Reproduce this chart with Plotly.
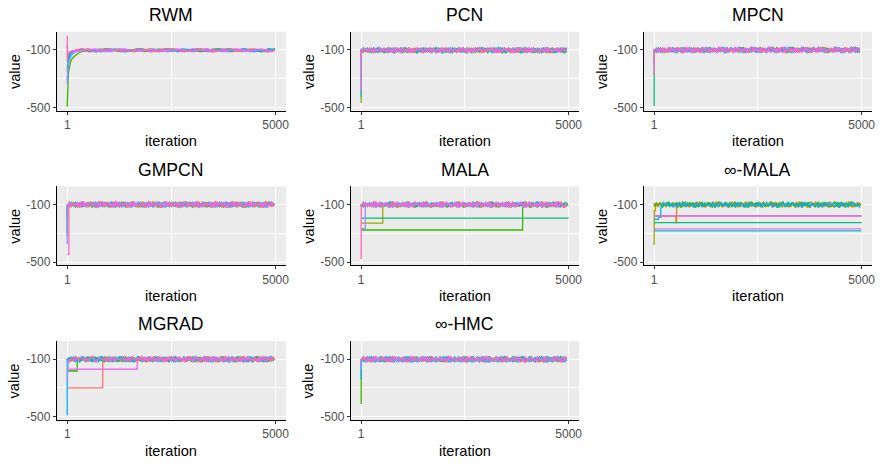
import plotly.graph_objects as go

W, H = 883, 469
ITER_MAX = 5000
THIN = 50               # one noise digit per 50 iterations
LEVEL0, STEP = -128, 5  # digit d -> value LEVEL0 + STEP * d

panel_names = ["RWM", "PCN", "MPCN", "GMPCN", "MALA", "∞-MALA", "MGRAD", "∞-HMC"]
chain_colours = ["#F8766D", "#D89000", "#A3A500", "#39B600", "#00BF7D",
                 "#00BFC4", "#00B0F6", "#9590FF", "#E76BF3", "#FF62BC"]
x_ticks = [1, 5000]
y_ticks = [-500, -100]

# burn-in of every chain as (iteration, value) points
rwm_start = [
    [(1, -260), (8, -220), (20, -180), (45, -150), (90, -128), (150, -114), (230, -106)],
    [(1, -180), (10, -160), (30, -140), (60, -125), (110, -112), (180, -105)],
    [(1, -240), (10, -200), (30, -168), (60, -142), (100, -124), (160, -111), (240, -104)],
    [(1, -495), (5, -430), (12, -360), (22, -300), (35, -250), (55, -210), (80, -185),
     (110, -165), (150, -150), (200, -138), (260, -125), (330, -115), (420, -108), (520, -104)],
    [(1, -70), (5, -130), (20, -150), (50, -132), (100, -116), (200, -105)],
    [(1, -220), (10, -190), (30, -160), (60, -136), (110, -118), (180, -108)],
    [(1, -310), (10, -262), (25, -212), (50, -172), (90, -142), (150, -122), (220, -110), (300, -104)],
    [(1, -340), (8, -282), (20, -222), (40, -182), (70, -152), (110, -130), (170, -115), (250, -106)],
    [(1, -150), (10, -140), (30, -128), (60, -118), (110, -108)],
    [(1, 0), (4, -170), (10, -142), (30, -126), (60, -115), (120, -107)],
]
pcn_start = [[(1, -104)], [(1, -98)], [(1, -470)], [(1, -102)], [(1, -101)],
             [(1, -430)], [(1, -99)], [(1, -103)], [(1, -385)], [(1, -150)]]
mpcn_start = [[(1, -195)], [(1, -102)], [(1, -99)], [(1, -104)], [(1, -490)],
              [(1, -101)], [(1, -98)], [(1, -103)], [(1, -100)], [(1, -270)]]
gmpcn_start = [[(1, -102)], [(1, -295)], [(1, -190)], [(1, -184)], [(1, -101)],
               [(1, -318)], [(1, -99)], [(1, -377)], [(1, -103)], [(1, -447), (40, -447)]]
mala_start = [[(1, -100)], [(1, -101)], [(1, -230), (520, -230)], [(1, -277), (3890, -277)],
              [(1, -195), (5000, -195)], [(1, -98)], [(1, -99)], [(1, -268), (100, -268)],
              [(1, -102)], [(1, -480)]]
imala_start = [[(1, -90)], [(1, -180), (525, -180), (526, -225), (540, -225)],
               [(1, -381), (4, -381), (5, -142), (30, -142)], [(1, -110)],
               [(1, -226), (5000, -226)], [(1, -283), (5000, -283)],
               [(1, -203), (100, -203), (101, -189), (160, -189)],
               [(1, -177), (5000, -177)], [(1, -269), (5000, -269)], [(1, -181), (5000, -181)]]
mgrad_start = [[(1, -300), (853, -300)], [(1, -101)], [(1, -99)], [(1, -182), (240, -182)],
               [(1, -102)], [(1, -100)], [(1, -490)], [(1, -252), (8, -252), (9, -180), (20, -180)],
               [(1, -170), (1680, -170)], [(1, -103)]]
ihmc_start = [[(1, -101)], [(1, -99)], [(1, -102)], [(1, -412)], [(1, -100)],
              [(1, -103)], [(1, -240)], [(1, -170)], [(1, -98)], [(1, -101)]]

# stationary part of every chain, one digit per THIN iterations (None = stuck)
rwm_noise = [
    "5566544556 6776655445 5443455667 7665544334 4556677665 5444556676 6554433445 5667766554 4455665544 3345566776",
    "4455667665 5443344556 6776654433 4556677766 5544455665 5433445566 7765544556 6654433445 5666777654 4433455665",
    "6655443345 5667765544 4556676655 4433455667 7766554445 5665544334 4556677665 5544345566 6776554433 4456677655",
    "3344556676 6554433445 5667766543 3445566776 6554445566 5543344556 6777665544 4556654433 3455667766 5544455667",
    "5667766554 4433455667 6655444556 6776554433 3455667765 5544556677 6654433445 5667765544 4556677654 4334556676",
    "4556655443 3456677665 5443345566 7766544556 6654433455 6677665544 4455667766 5443344556 6776655443 3455667765",
    "6776554433 4556677655 4433455667 7665544556 6775544334 5566776554 4335566776 6544556677 6553344556 6776544334",
    "5544556677 6654433455 6677665443 3455667765 5443455667 7654433456 6776655443 3455676655 4433556677 6554433456",
    "4433556677 7655443345 5667766554 4455667765 5433445566 7766544334 5566776655 4433455667 7665544556 6776544335",
    "5566776544 3345566776 6554433455 6677654433 4556677665 5443345567 7665544334 5567766554 4335566776 6544335566",
]
pcn_noise = [
    "5364758264 3756482637 5847362548 2637485736 4857263748 5362748573 6485736254 7364825736 4758263745 8362547385",
    "4735826374 6253748562 7384625738 4657382645 7362584736 2548637452 8364752638 4726385746 3528476354 7263845726",
    "6283745637 4859263748 3625748362 5748362574 8362547839 2647385264 7385264738 5627384756 2638475362 8475263847",
    "3748562738 4625738465 2748365274 8365247386 5247386524 7386524738 6253847562 3847562384 7652384765 2384756238",
    "5847263593 6274851637 4928365174 6382759461 3857264938 5172648395 7263849516 2847359164 8352746193 6485273619",
    "4657384526 7348562739 4658273645 3748256374 6583742658 3746285637 4852637485 2637485627 3845627384 5627384562",
    "7364528473 6452837465 2836475263 8475362847 5362847563 2847563728 4657382946 5738264759 3648572638 4752638475",
    "3857462839 5746382947 5638274658 3947562837 4659382746 5837264958 3746285739 4658273946 5827364859 3746582937",
    "6472835647 3825647382 5647382956 4738265749 3826574839 2657483926 5748362657 4736285748 3926574638 2657483746",
    "5463728456 3748526374 8562734856 2734865273 4856372485 6273845627 3458627348 5672348562 7384562734 8526734856",
]
mpcn_noise = [
    "4738562947 3856274638 5927463857 2647385926 4738562947 6385274639 5827463952 7463852746 3958274638 5274639582",
    "6374825637 4852637428 5673482956 3784295637 4289563748 2965374829 5367482956 3748925637 4892563748 2596374829",
    "5284736459 2873465928 3764592837 4695283746 5982374659 2837645928 3746529837 4659238746 5928734659 2387465928",
    "4657382746 5839274658 3746592847 3658274936 5748263957 4638275946 3857264938 4756283947 5638274956 4738265947",
    "3758264937 5648273956 4837265948 3756284937 6548273965 4837256948 3765284937 5648273956 4873265948 3756248937",
    "6485273648 5273946582 7364859273 6458273946 5827364952 8736495827 3649582736 4958273649 5827364958 2736495827",
    "5372846573 8264753382 6475738264 7539826475 3982647593 8246759382 6475398264 7593286475 9382674593 8264795382",
    "4826375948 2673594826 3759842637 5948236759 4862375948 2637549826 3795482637 5948263579 4826357948 2637594286",
    "6573846295 7348629573 8462597384 6295783462 9537846295 7384692573 8426957384 6259738462 9573486295 7384625973",
    "5647382956 4783295647 3829546738 2965473829 5647328956 4738259647 3892564738 2956437829 5674382956 4738295467",
]
gmpcn_noise = [
    "5738462957 3486259738 4692573846 2975384629 5783462957 3846925738 4629753846 2957348629 5738642957 3864295738",
    "4629385746 2983574629 3857426938 5746239857 4692385746 2938547629 3875462938 5764293857 4629358746 2938574692",
    "6384725963 8427596384 7259368472 5963874259 6348725963 8472956384 7295638472 5963847529 6384752963 8472593684",
    "3957264835 5726438957 2648359726 4893572648 3957246839 5762483957 2648395276 4839527648 3975264839 5726438957",
    "5486372954 8673295486 3729584637 2954836729 5468372954 8637259486 3792548637 2954863279 5486327954 8637294586",
    "4765382946 7583294765 3829467538 2974653829 4765328946 7538249765 3892476538 2947635829 4756382946 7538294675",
    "6374958263 7459826374 5982637495 8263794582 6347958263 7495286374 9582367495 8263749852 6374985263 7495823674",
    "5293847562 9348756293 8475692384 7562983475 6239847562 9384765293 8457629384 7526938475 6293874562 9384752693",
    "3846572938 4675293846 5729348657 2938456729 3864572938 4657239846 5792384657 2938465279 3846527938 4657293486",
    "5647283956 4782395647 2839546728 3965472839 5647238956 4728359647 2893564728 3956427839 5674283956 4728396547",
]
mala_noise = [
    "4857362948 5763294857 3629458736 2984573629 4875362948 5736249857 3692485736 2948537629 4857326948 5736298457",
    "6273849562 7348956273 8495672384 9562783495 6237849562 7384965273 8459627384 9526738495 6273894562 7384952673",
    "3748596237 4895623748 5962347859 6273485962 3784596237 4859632748 5926374859 6237458962 3748569237 4859627348",
    "5736284957 3628495736 2849573",
    None,
    "5384762953 8467295384 7629583476 2935847629 5348762953 8476259384 7692538476 2953874629 5384726953 8476293584",
    "4673859246 7358924673 8592476385 9264738592 4637859246 7385942673 8529467385 9246783592 4673895246 7385926473",
    "6482937564 8239756482 9375684293 7546829375 6428937564 8293765482 9357648293 7564892375 6482973564 8293754682",
    "3957486239 5784623957 4862359748 6293574862 3975486239 5748632957 4826395748 6239547862 3957468239 5748629357",
    "5826473958 2674395826 4739528647 3985264739 5862473958 2647359826 4793582647 3958246739 5826437958 2647398526",
]
imala_noise = [
    "5638274956 3872495638 2749536827 4965382749 5683274956 3827459638 2794563827 4956328749 5638724956 3827496538",
    "4759362847 5963284759 3628457936 2874593628 4795362847 5936248759 3682475936 2847539628 4759326847 5936284759",
    "6384927563 8429756384 9275683492 7536849275 6348927563 8492765384 9257638492 7563894275 6384972563 8492753684",
    "3857264938 5762493857 2649358726 4983572649 3875264938 5726439857 2694385726 4938527649 3857246938 5726498357",
    None,
    None,
    "2849372819 3928471928 2847391829 4928371938 2819473928 3948271839 2938472819 4928371829 3847291938 2948371829",
    None,
    None,
    None,
]
mgrad_noise = [
    "4956382746 9583274695 3827496538 2764953827 4695328746 9538247695 3872469538 2746935827 4695382764 9538274659",
    "6273958462 7359846273 9584672395 8426739584 6237958462 7395864273 9548627395 8462793584 6273985462 7395842673",
    "5839462758 3964275839 4627538946 2785394627 5893462758 3946257839 4672583946 2758349627 5839426758 3946278539",
    "3748295637 4892563748 2956347829 5673482956 3784295637 4829536748 2965374829 5637428956 3748259637 4829567348",
    "4685273946 8572394685 2739486527 3964852739 4658273946 8527349685 2793468527 3946825739 4685237946 8527396485",
    "5394827653 9428765394 8276593482 7635948276 5349827653 9482756394 8267539482 7653984276 5394872653 9482763594",
    "6748352976 7438529767 4835279674 8325976748 3592767483 5297648357 2967748352 9767438529 7674853297 6748325976",
    "4572938645 5792386457 2938654729 3846572938 6475293864 5729368457 2983645729 3864527938 6457239864 5729386475",
    "3865729483 8675294838 6572984386 5792483865 7294383657 2948365572 9438865729 4838675294 8368572948 3865792483",
    "5283946758 2893467582 8394657828 3964758283 9476582839 4657828394 6785283946 7528839467 5823894675 8283964758",
]
ihmc_noise = [
    "4738529646 7358296467 3852946673 8592646738 5269467385 2964637852 9646783529 6476385296 4673825964 6738592646",
    "6359248375 3529483756 5924873563 9284375635 2438756359 4837536592 8357635924 3756392487 5763592483 5635942837",
    "5846372958 8436729585 4637259858 6327958584 3792585846 7259858463 2985584637 9558846372 5884563729 5846327958",
    "3957482636 9547826363 5784263639 7428636395 4862363957 8236639574 2663395748 6336957482 3693574826 6359748263",
    "4628395747 6238957474 2893574746 8359747462 3975474628 9547746283 5774462839 7447628395 4764283957 7426839574",
    "5473862959 4783629595 7368295954 3826959547 8692595473 6259954738 2995547386 9559473862 5945738629 9574386295",
    "6385947262 3895472626 8549726263 5974262638 9427626385 4762263859 7226638594 2662385947 6236859472 2683594726",
    "3749562848 7459628483 4965284837 9526848374 5682483749 6248837495 2884374956 8438749562 4873495628 8347956284",
    "5862739454 8672394545 6237945458 2793454586 7349545862 3954458627 9445586273 4554862739 5485627394 4568273945",
    "4586327964 5836279645 8623796454 6372964545 3297645458 2769454586 7946545863 9654458632 6445586327 4554863279",
]

panels = [(rwm_start, rwm_noise), (pcn_start, pcn_noise), (mpcn_start, mpcn_noise),
          (gmpcn_start, gmpcn_noise), (mala_start, mala_noise), (imala_start, imala_noise),
          (mgrad_start, mgrad_noise), (ihmc_start, ihmc_noise)]


def chain_xy(start, noise):
    xs = [p[0] for p in start]
    ys = [p[1] for p in start]
    if noise:
        it = xs[-1] + 1
        for d in noise.replace(" ", ""):
            if it > ITER_MAX:
                break
            xs.append(it)
            ys.append(LEVEL0 + STEP * int(d))
            it += THIN
    return xs, ys


# panel boxes in pixels
col_px = [(57, 287), (352, 581), (646, 875)]
row_px = [(32, 111.5), (188, 267.5), (344, 423.5)]

FONT = "Liberation Sans, Arial, sans-serif"
fig = go.Figure()
annotations = []

for k, name in enumerate(panel_names):
    r, c = divmod(k, 3)
    sfx = "" if k == 0 else str(k + 1)
    starts, noises = panels[k]
    for j in range(len(chain_colours)):
        xs, ys = chain_xy(starts[j], noises[j])
        fig.add_trace(go.Scatter(
            x=xs, y=ys, mode="lines",
            line=dict(color=chain_colours[j], width=1.3),
            xaxis="x" + sfx, yaxis="y" + sfx,
            showlegend=False, hoverinfo="skip",
        ))

    x0, x1 = col_px[c]
    t, b = row_px[r]
    common = dict(
        showgrid=True, gridcolor="white", gridwidth=1.1,
        showline=True, linecolor="black", linewidth=1.1,
        ticks="outside", ticklen=3, tickcolor="#333333", tickwidth=1.1,
        tickfont=dict(family=FONT, size=12, color="#4D4D4D"),
        zeroline=False, fixedrange=True,
    )
    fig.update_layout({
        "xaxis" + sfx: dict(
            domain=[x0 / W, x1 / W], anchor="y" + sfx,
            range=[-249, 5250], tickmode="array",
            tickvals=x_ticks, ticktext=[str(v) for v in x_ticks],
            minor=dict(tickvals=[2500.5], showgrid=True, gridcolor="white", gridwidth=0.55, ticks=""),
            **common),
        "yaxis" + sfx: dict(
            domain=[1 - b / H, 1 - t / H], anchor="x" + sfx,
            range=[-522, 26], tickmode="array",
            tickvals=y_ticks, ticktext=[str(v) for v in y_ticks],
            minor=dict(tickvals=[-300], showgrid=True, gridcolor="white", gridwidth=0.55, ticks=""),
            **common),
    })

    annotations.append(dict(
        text=name, x=(x0 + x1) / 2 / W, y=1 - (t - 17) / H,
        xref="paper", yref="paper", showarrow=False,
        xanchor="center", yanchor="middle",
        font=dict(family=FONT, size=17.6, color="black")))
    annotations.append(dict(
        text="iteration", x=(x0 + x1) / 2 / W, y=1 - (b + 31) / H,
        xref="paper", yref="paper", showarrow=False,
        xanchor="center", yanchor="middle",
        font=dict(family=FONT, size=14.6, color="black")))
    annotations.append(dict(
        text="value", x=(x0 - 42) / W, y=1 - ((t + b) / 2) / H,
        xref="paper", yref="paper", showarrow=False, textangle=-90,
        xanchor="center", yanchor="middle",
        font=dict(family=FONT, size=14.6, color="black")))

fig.update_layout(
    width=W, height=H,
    margin=dict(l=0, r=0, t=0, b=0),
    paper_bgcolor="white", plot_bgcolor="#EBEBEB",
    annotations=annotations,
    showlegend=False,
)

# the page's default 8px body margin would push the figure off the window
fig.write_html("out.html", config={"displayModeBar": False},
               post_script="document.body.style.margin='0';")
